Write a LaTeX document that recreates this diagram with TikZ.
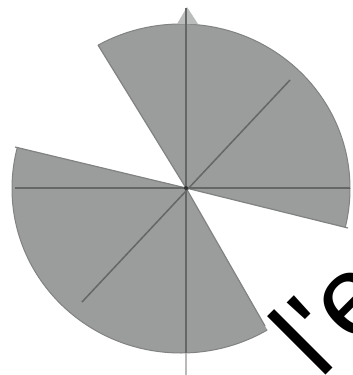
\documentclass[tikz,border=0pt]{standalone}
\usepackage{fontspec}
\newfontfamily\labfont[Ligatures=TeXOff]{Liberation Sans}
\usetikzlibrary{calc}
\definecolor{fillgray}{RGB}{154,157,156}
\definecolor{edgegray}{RGB}{128,131,130}
\definecolor{axisgray}{RGB}{100,103,102}
\definecolor{tipgray}{RGB}{185,188,187}
\tikzset{
  sector/.style={fill=fillgray, draw=edgegray, line width=1pt},
  radial/.style={draw=edgegray, line width=1.2pt},
  axis/.style={draw=axisgray, line width=1.8pt},
  axislight/.style={draw=fillgray!70, line width=1.8pt},
  label/.style={font=\labfont\fontsize{114}{120}\selectfont, text=black, inner sep=0pt, rotate=45, anchor=base west}
}
\begin{document}
\begin{tikzpicture}[x=1pt,y=-1pt]
\useasboundingbox (0,0) rectangle (353,375);
\fill[white] (0,0) rectangle (353,375);
% centre and sector end points
\coordinate (O) at (186,188);
\coordinate (E) at (181,188.5);
\coordinate (A1) at (348,228);
\coordinate (A2) at (98,45);
\coordinate (B1) at (15,147);
\coordinate (B2) at (265,326);
% upper sector
\begin{scope}
  \clip (O) -- ($(O)!3!(A1)$) -- (619,-62) -- (315,-295) -- ($(O)!3!(A2)$) -- cycle;
  \filldraw[sector] (E) ellipse [x radius=169, y radius=164.5];
\end{scope}
% left / lower sector
\begin{scope}
  \clip (O) -- ($(O)!3!(B1)$) -- (-247,438) -- (57,671) -- ($(O)!3!(B2)$) -- cycle;
  \filldraw[sector] (E) ellipse [x radius=169, y radius=164.5];
\end{scope}
\draw[radial] (O) -- (A1);
\draw[radial] (O) -- (A2);
\draw[radial] (O) -- (B1);
\draw[radial] (O) -- (B2);
% small tip at top of vertical axis
\coordinate (T) at (187,7);
\fill[tipgray] (177,24) -- (T) -- (198,24) -- cycle;
% axes
\coordinate (Vtop) at (186,8);
\coordinate (Vmid) at (186,353);
\coordinate (Vbot) at (186,375);
\coordinate (Hl) at (15,188);
\coordinate (Hr) at (350,188);
\coordinate (D1) at (290,80);
\coordinate (D2) at (82,302);
\draw[axis] (Vtop) -- (Vmid);
\draw[axislight] (Vmid) -- (Vbot);
\draw[axis] (Hl) -- (Hr);
\draw[axis, line width=1.5pt] (D1) -- (D2);
\fill[black!80] (O) circle (2pt);
% text
\node[label] (txt) at (320,381) {l\symbol{39}e};
\end{tikzpicture}
\end{document}
